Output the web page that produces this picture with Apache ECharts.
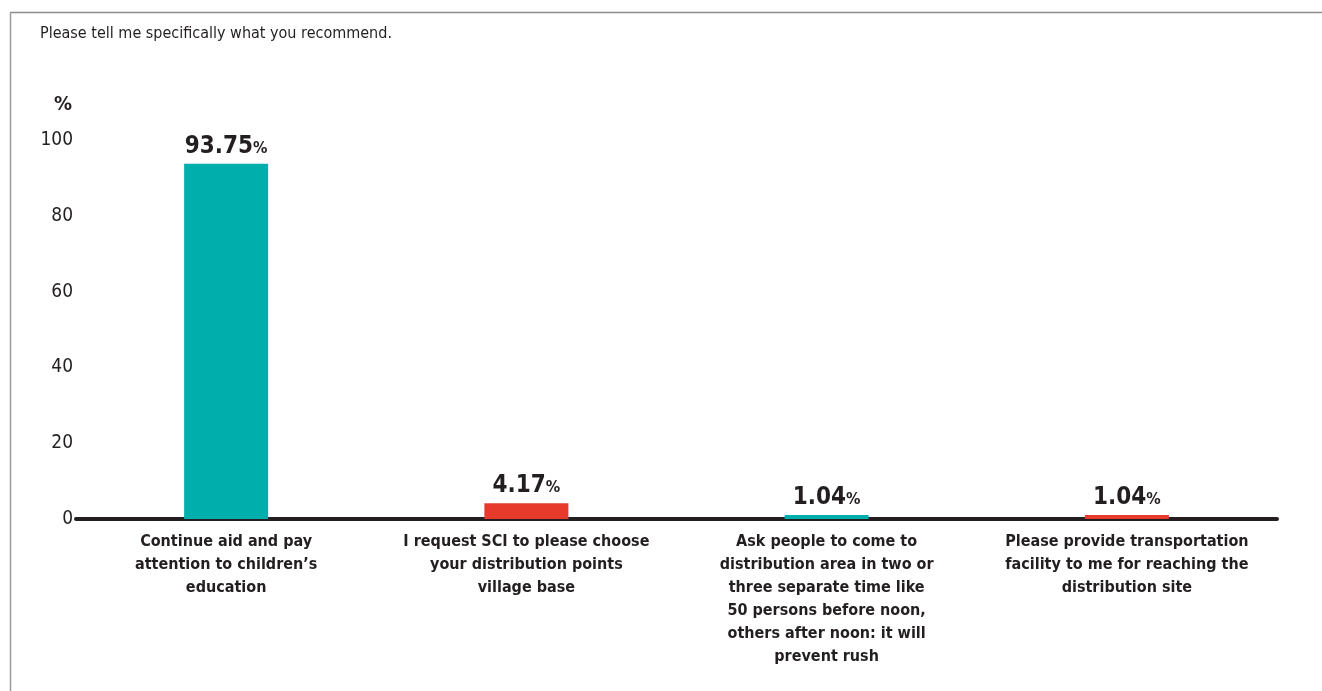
<!DOCTYPE html>
<html>
<head>
<meta charset="utf-8">
<style>
  html, body { margin: 0; padding: 0; background: #ffffff; }
  #chart { width: 1322px; height: 691px; }
</style>
<script src="https://cdn.jsdelivr.net/npm/echarts@6/dist/echarts.min.js"></script>
</head>
<body>
<div id="chart"></div>
<script>
// Survey question and answers
const questionText = 'Please tell me specifically what you recommend.';
const categories = [
  'Continue aid and pay\nattention to children\u2019s\neducation',
  'I request SCI to please choose\nyour distribution points\nvillage base',
  'Ask people to come to\ndistribution area in two or\nthree separate time like\n50 persons before noon,\nothers after noon: it will\nprevent rush',
  'Please provide transportation\nfacility to me for reaching the\ndistribution site'
];
const shares = [93.75, 4.17, 1.04, 1.04];
const yTicks = [0, 20, 40, 60, 80, 100];

const TEAL = '#00afac';
const RED = '#e8392d';
const INK = '#231f20';
const FONT = '"DejaVu Sans Condensed", "DejaVu Sans", sans-serif';

const chart = echarts.init(document.getElementById('chart'));

chart.setOption({
  backgroundColor: '#ffffff',
  animation: false,
  textStyle: { fontFamily: FONT, color: INK },
  graphic: [
    // frame lines along top and left
    { type: 'line', shape: { x1: 10, y1: 12.5, x2: 1322, y2: 12.5 }, style: { stroke: '#8c8c8c', lineWidth: 1.5 } },
    { type: 'line', shape: { x1: 10.5, y1: 12, x2: 10.5, y2: 691 }, style: { stroke: '#9a9a9a', lineWidth: 1.5 } },
    {
      type: 'text', left: 40, top: 26,
      style: { text: questionText, font: '16px ' + FONT, fill: INK }
    }
  ],
  grid: { left: 76, right: 45, top: 140, bottom: 172, containLabel: false },
  xAxis: {
    type: 'category',
    data: categories,
    axisLine: { show: true, lineStyle: { color: INK, width: 4 } },
    axisTick: { show: false },
    axisLabel: {
      interval: 0,
      margin: 11,
      color: INK,
      fontFamily: FONT,
      fontWeight: 'bold',
      fontSize: 16,
      lineHeight: 23,
      align: 'center'
    }
  },
  yAxis: {
    type: 'value',
    min: yTicks[0],
    max: yTicks[yTicks.length - 1],
    interval: yTicks[1] - yTicks[0],
    name: '%',
    nameLocation: 'end',
    nameGap: 25,
    nameTextStyle: { fontFamily: FONT, fontWeight: 'bold', fontSize: 20, color: INK, align: 'right', padding: [0, 4, 0, 0] },
    axisLine: { show: false },
    axisTick: { show: false },
    splitLine: { show: false },
    axisLabel: { margin: 3, color: INK, fontFamily: FONT, fontSize: 19 }
  },
  series: [{
    type: 'bar',
    data: shares.map((v, i) => ({ value: v, itemStyle: { color: i % 2 === 0 ? TEAL : RED } })),
    barWidth: 84,
    label: {
      show: true,
      position: 'top',
      distance: 5,
      formatter: p => '{v|' + p.value.toFixed(2) + '}{p|%}',
      rich: {
        v: { fontFamily: FONT, fontWeight: 'bold', fontSize: 24, color: INK },
        p: { fontFamily: FONT, fontWeight: 'bold', fontSize: 16, color: INK, padding: [4, 0, 0, 0] }
      }
    }
  }]
});
</script>
</body>
</html>
